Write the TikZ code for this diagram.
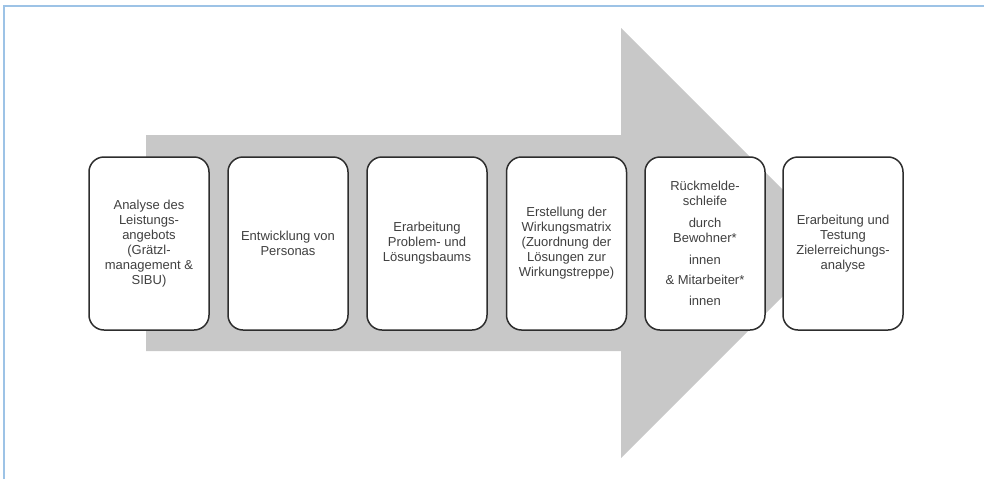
\documentclass[tikz,border=0pt]{standalone}
\usepackage{fontspec}
\setmainfont{Liberation Sans}
\definecolor{arrowgray}{RGB}{200,200,200}
\definecolor{framblue}{RGB}{157,195,230}
\definecolor{txtgray}{RGB}{64,64,64}
\definecolor{boxline}{RGB}{45,45,45}
\tikzset{
  stepbox/.style={draw=boxline, line width=1.5pt, fill=white, rounded corners=15pt,
    minimum width=120pt, minimum height=173pt, inner sep=0pt, align=center,
    text=txtgray, font=\fontsize{13}{15}\selectfont},
}
\begin{document}
\begin{tikzpicture}[x=1pt,y=-1pt]
\useasboundingbox (0,0) rectangle (984,479);
\fill[white] (0,0) rectangle (984,479);
\draw[framblue, line width=2pt] (4,479) -- (4,6) -- (984,6);
\fill[arrowgray] (146,135) -- (621,135) -- (621,28) -- (836,243) -- (621,458) -- (621,351) -- (146,351) -- cycle;
\node[stepbox] (b1) at (149,243.5) {Analyse des\\Leistungs-\\angebots\\(Grätzl-\\management \&\\SIBU)};
\node[stepbox] (b2) at (288,243.5) {Entwicklung von\\Personas};
\node[stepbox] (b3) at (427,243.5) {Erarbeitung\\Problem- und\\Lösungsbaums};
\node[stepbox] (b4) at (566.5,243.5) {Erstellung der\\Wirkungsmatrix\\(Zuordnung der\\Lösungen zur\\Wirkungstreppe)};
\node[stepbox] (b5) at (705,243.5) {Rückmelde-\\schleife\\[6.7pt]durch\\Bewohner*\\[6.7pt]innen\\[5pt]\& Mitarbeiter*\\[6.7pt]innen};
\node[stepbox] (b6) at (843,243.5) {Erarbeitung und\\Testung\\Zielerreichungs-\\analyse};
\end{tikzpicture}
\end{document}
